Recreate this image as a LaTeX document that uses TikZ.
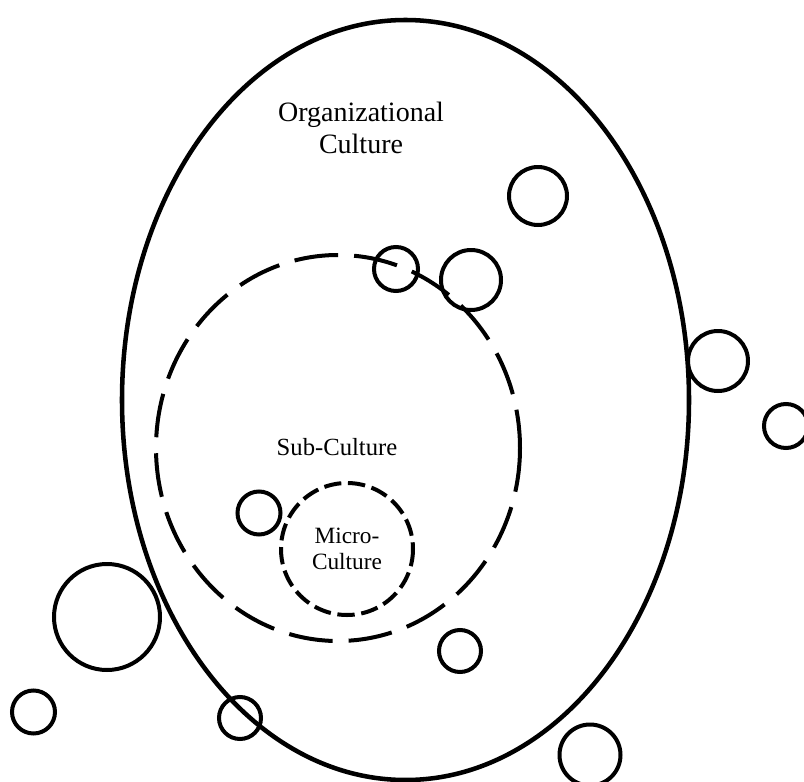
\documentclass[tikz,border=0pt]{standalone}
\usepackage{fontspec}
\setmainfont{Liberation Serif}
\begin{document}
\begin{tikzpicture}[x=0.75pt,y=-0.75pt,
  outline/.style={draw=black, line width=3.4pt},
  ring/.style={draw=black, line width=3pt},
  subring/.style={draw=black, line width=3pt, dash pattern=on 33pt off 12pt},
  microring/.style={draw=black, line width=3pt, dash pattern=on 13pt off 5pt},
  label/.style={align=center, inner sep=0pt}]
\useasboundingbox (0,0) rectangle (804,782);
\begin{scope}
\clip (0,0) rectangle (804,782);
% outer organisation boundary
\draw[outline] (405.5,400) ellipse [x radius=283.5, y radius=380];
% sub-culture and micro-culture
\draw[subring] (338,448) ellipse [x radius=182, y radius=193];
\draw[microring] (347,549) circle [radius=66];
% loose groups
\draw[ring] (538,196) circle [radius=29];
\draw[ring] (396,269) circle [radius=22];
\draw[ring] (471,280) circle [radius=30];
\draw[ring] (718,361) circle [radius=30];
\draw[ring] (786,426) circle [radius=22];
\draw[ring] (259,513) circle [radius=21.5];
\draw[ring] (107,617) circle [radius=53];
\draw[ring] (460,651) circle [radius=21];
\draw[ring] (33.5,712) circle [radius=21.5];
\draw[ring] (240,718) circle [radius=21];
\draw[ring] (590,755) circle [radius=30.5];
\end{scope}
\node[label, font=\fontsize{21}{24}\selectfont, anchor=base] (org) at (361,153)
  {Organizational\\Culture};
\node[label, font=\fontsize{18.5}{22}\selectfont, anchor=base] (sub) at (337,455) {Sub-Culture};
\node[label, font=\fontsize{17.5}{19.5}\selectfont, anchor=base] (micro) at (347,569)
  {Micro-\\Culture};
\end{tikzpicture}
\end{document}
